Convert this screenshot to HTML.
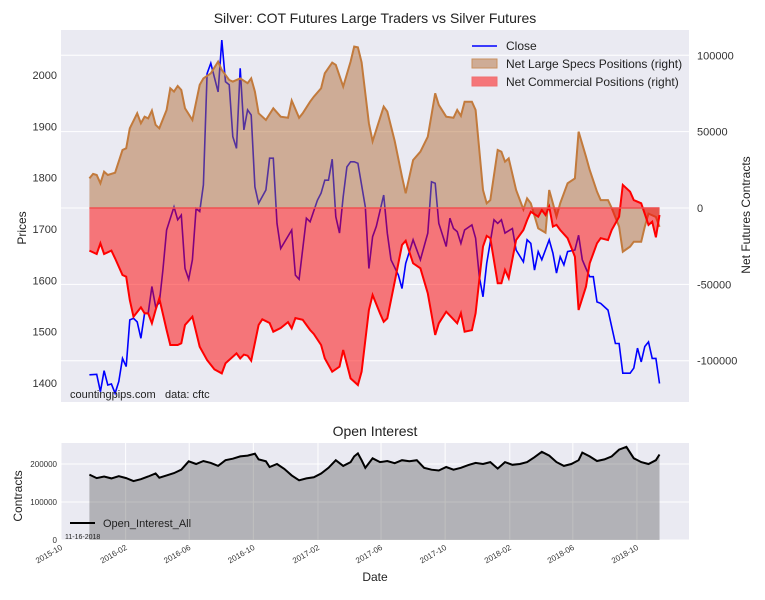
<!DOCTYPE html>
<html><head><meta charset="utf-8"><style>
body{margin:0;background:#fff;font-family:"Liberation Sans",sans-serif}
svg text{font-family:"Liberation Sans",sans-serif}
</style></head><body>
<svg id="c" width="765" height="595" xmlns="http://www.w3.org/2000/svg"></svg>
<script>
const startDate = "2015-11-24";
const closeWeeks=[0,2,3,4,5,6,7,8,9,10,11,12,13,14,15,16,17,18,19,20,21,23,24,25,26,27,28,29,30,31,32,33,35,36,37,38,39,40,41,42,43,44,45,46,48,49,50,51,52,55,56,57,59,60,62,63,64,65,66,67,68,69,70,71,72,73,75,76,77,78,80,81,82,84,85,86,88,90,92,93,94,95,97,98,99,100,101,102,104,105,106,107,108,110,111,112,113,115,116,118,119,120,121,122,123,125,126,127,128,129,130,132,133,134,135,136,137,138,139,141,143,144,145,147,148,149,150,151,152,153,154,155];
const closeVals=[1416,1417,1383,1424,1396,1398,1380,1403,1448,1432,1523,1526,1519,1487,1536,1536,1588,1549,1556,1620,1698,1743,1718,1727,1623,1602,1640,1740,1734,1786,2003,2023,1967,2068,1987,1981,1880,1857,2013,1893,1932,1922,1782,1750,1776,1838,1838,1711,1662,1698,1610,1602,1721,1714,1756,1770,1795,1795,1836,1724,1692,1763,1821,1831,1831,1828,1743,1623,1685,1705,1766,1692,1640,1610,1584,1633,1679,1640,1692,1792,1789,1711,1666,1721,1701,1695,1672,1698,1708,1682,1607,1568,1633,1718,1711,1718,1692,1701,1659,1636,1679,1672,1620,1656,1640,1679,1653,1614,1646,1630,1656,1659,1688,1640,1623,1607,1607,1558,1555,1542,1477,1477,1419,1419,1429,1468,1441,1471,1480,1448,1448,1399];
const specWeeks=[0,1,2,3,4,5,7,9,10,11,13,14,15,16,17,18,19,21,22,23,24,25,26,28,30,31,33,35,36,38,39,41,43,44,45,46,48,50,52,54,55,57,58,60,61,63,64,66,67,69,71,72,73,74,76,77,80,81,83,85,86,88,90,92,94,95,97,99,100,101,102,104,105,107,108,109,111,112,113,114,116,118,119,120,122,124,125,126,127,128,130,132,133,135,136,138,139,141,142,144,145,147,148,150,151,152,154,155];
const specVals=[19400,22300,21600,16200,23800,21600,23100,38000,39100,52200,62000,55500,59800,58700,63800,54400,52200,64200,78400,76200,79900,77300,65300,57600,80600,84900,88200,95900,90400,83800,82800,84900,81700,84900,76200,62000,57600,65300,59800,59100,70400,59100,62000,69600,72900,78400,88200,95200,93700,79500,95900,105700,105200,95400,55500,43700,66400,63100,43900,20500,9600,31400,36900,46700,75100,67500,59800,59100,64200,60300,69600,69600,64200,11800,3100,5200,38000,36900,30300,32500,11800,-900,6300,3100,-13300,-16200,11800,3100,-5700,3100,16200,19400,50000,33600,24900,10700,5200,5200,0,-12200,-28600,-25300,-22100,-22100,-12200,-3700,-5900,-12400];
const commWeeks=[0,2,3,4,6,7,9,10,11,12,14,15,16,17,18,19,21,22,24,25,26,28,30,32,34,36,37,40,41,42,43,44,46,47,49,50,52,54,55,56,58,60,61,63,64,66,68,69,71,73,74,76,77,79,80,81,83,85,86,88,90,92,94,95,97,100,101,102,104,105,107,108,109,111,112,113,114,116,118,119,120,122,123,124,125,126,127,128,130,132,133,135,136,138,139,141,142,144,145,147,148,150,152,153,154,155];
const commVals=[-27900,-30100,-23100,-30100,-27900,-33000,-43900,-45000,-60300,-71200,-65100,-69000,-69000,-75500,-66800,-59200,-79900,-89700,-89700,-88600,-76600,-71200,-90800,-99600,-105700,-108300,-101700,-95200,-98500,-96000,-96700,-100000,-76600,-72900,-75300,-81000,-78600,-74700,-78800,-72100,-73200,-79900,-82500,-89700,-98500,-107200,-103900,-93000,-111600,-115900,-107200,-66800,-57000,-69000,-74500,-72300,-48300,-24200,-21400,-36200,-39500,-55900,-83200,-75500,-67900,-75500,-68900,-81000,-80000,-68900,-25300,-18300,-19800,-49300,-49300,-40600,-46000,-21000,-14400,-7900,-2400,-5700,-1300,-4600,900,-12200,-11100,-14400,-19800,-31900,-66800,-51500,-36200,-23100,-19800,-21000,-14400,-5700,15100,10700,5200,3100,-11100,-9000,-19200,-4600];
const oiWeeks=[0,2,4,6,8,10,12,14,16,18,19,21,23,25,27,29,31,33,35,37,39,41,43,45,46,48,49,51,53,55,57,59,61,63,65,67,69,71,72,73,74,75,77,79,81,83,85,87,89,91,93,95,97,99,101,103,105,107,109,111,113,115,117,119,121,123,125,127,129,131,133,134,136,138,140,142,144,146,148,150,152,154,155];
const oiVals=[172,163,167,162,168,163,155,160,167,175,164,170,176,185,207,200,208,203,195,210,214,220,222,227,212,207,192,200,187,170,157,162,165,175,190,210,195,205,220,228,210,190,215,205,208,202,210,207,210,190,185,183,192,185,190,197,203,200,205,188,205,198,200,205,218,232,222,205,195,200,210,230,220,208,212,220,238,245,215,205,200,210,225];
const leftTicks=[1400,1500,1600,1700,1800,1900,2000];
const rightTicks=[-100000,-50000,0,50000,100000];
const oiTicks=[0,100000,200000];
const dateTicks=["2015-10","2016-02","2016-06","2016-10","2017-02","2017-06","2017-10","2018-02","2018-06","2018-10"];

const svg=document.getElementById('c');const NS="http://www.w3.org/2000/svg";
function mk(t,a,p){const e=document.createElementNS(NS,t);for(const k in a)e.setAttribute(k,a[k]);(p||svg).appendChild(e);return e;}
const D0=Date.UTC(2015,9,1), S0=Date.parse(startDate+"T00:00:00Z");
function xDate(ms){return 61+(ms-D0)/864e5*0.5255;}
function xW(i){return xDate(S0+i*7*864e5);}
function yL(p){return 229-(p-1700)*0.5133;}
function yR(v){return 208-v*0.001527;}
function yO(v){return 540-v*0.00038;}
function tx(x,y,s,a,nm){const e=mk('text',Object.assign({x:x,y:y},a||{}));e.textContent=s;return e;}

let r=mk('rect',{x:61,y:30,width:628,height:372,fill:'#EAEAF2'});

rightTicks.forEach(v=>{let l=mk('line',{x1:61,x2:689,y1:yR(v),y2:yR(v),stroke:'#fff','stroke-width':1});

tx(697,yR(v)+4,String(v),{'font-size':11,fill:'#333'},'right-tick-label');});
leftTicks.forEach(v=>{tx(57,yL(v)+4,String(v),{'font-size':11,fill:'#333','text-anchor':'end'},'left-tick-label');});
function pts(ws,vs,fx,fy){return ws.map((w,k)=>fx(w).toFixed(1)+','+fy(vs[k]).toFixed(1));}
let cl=mk('polyline',{points:pts(closeWeeks,closeVals,xW,yL).join(' '),fill:'none',stroke:'#0000FF','stroke-width':1.6});

function area(ws,vs,fill,line,nm){const p=pts(ws,vs,xW,yR);const x0=xW(ws[0]),x1=xW(ws[ws.length-1]);
let a=mk('polygon',{points:x0+','+yR(0)+' '+p.join(' ')+' '+x1+','+yR(0),fill:fill,stroke:'none'});

let l=mk('polyline',{points:p.join(' '),fill:'none',stroke:line,'stroke-width':2});
}
area(specWeeks,specVals,'rgba(175,105,50,0.48)','#C27A3C','net-large-specs');
area(commWeeks,commVals,'rgba(255,0,0,0.5)','#FF0000','net-commercial');
let zl=mk('line',{x1:xW(0),x2:xW(155),y1:yR(0),y2:yR(0),stroke:'#F05050','stroke-width':1.5});

tx(375,23,'Silver: COT Futures Large Traders vs Silver Futures',{'font-size':14,fill:'#222','text-anchor':'middle'},'chart-title');
tx(70,398,'countingpips.com',{'font-size':11,fill:'#222'},'watermark');
tx(165,398,'data: cftc',{'font-size':11,fill:'#222'},'data-source');
tx(0,0,'Prices',{'font-size':12,fill:'#222','text-anchor':'middle',transform:'translate(26,228) rotate(-90)'},'left-axis-title');
tx(0,0,'Net Futures Contracts',{'font-size':12,fill:'#222','text-anchor':'middle',transform:'translate(750,215) rotate(-90)'},'right-axis-title');
let lg=mk('g',{});
mk('line',{x1:472,x2:497,y1:46,y2:46,stroke:'#0000FF','stroke-width':1.6},lg);
mk('rect',{x:472,y:59,width:25,height:9,fill:'rgba(175,105,50,0.48)',stroke:'#C9905E'},lg);
mk('rect',{x:472,y:77,width:25,height:9,fill:'rgba(255,0,0,0.5)',stroke:'#F07070'},lg);
tx(506,50,'Close',{'font-size':12,fill:'#222'},'legend-entry');
tx(506,68,'Net Large Specs Positions (right)',{'font-size':12,fill:'#222'},'legend-entry');
tx(506,86,'Net Commercial Positions (right)',{'font-size':12,fill:'#222'},'legend-entry');

let r2=mk('rect',{x:61,y:443,width:628,height:97,fill:'#EAEAF2'});

oiTicks.forEach(v=>{let l=mk('line',{x1:61,x2:689,y1:yO(v),y2:yO(v),stroke:'#fff','stroke-width':1});

tx(57,yO(v)+3,String(v),{'font-size':8,fill:'#333','text-anchor':'end'},'oi-tick-label');});
dateTicks.forEach(d=>{const x=xDate(Date.parse(d+"-01T00:00:00Z"));
let l=mk('line',{x1:x,x2:x,y1:443,y2:540,stroke:'#fff','stroke-width':1});

tx(0,0,d,{'font-size':8,fill:'#333','text-anchor':'end',transform:'translate('+(x+2)+',549) rotate(-30)'},'date-tick-label');});
const op=oiWeeks.map((w,k)=>xW(w).toFixed(1)+','+yO(oiVals[k]*1000).toFixed(1));
let oa=mk('polygon',{points:xW(0)+','+yO(0)+' '+op.join(' ')+' '+xW(155)+','+yO(0),fill:'rgba(60,60,60,0.32)'});

let ol=mk('polyline',{points:op.join(' '),fill:'none',stroke:'#000','stroke-width':2});

tx(375,436,'Open Interest',{'font-size':14,fill:'#222','text-anchor':'middle'},'open-interest-title');
tx(375,581,'Date',{'font-size':12,fill:'#222','text-anchor':'middle'},'x-axis-title');
tx(0,0,'Contracts',{'font-size':12,fill:'#222','text-anchor':'middle',transform:'translate(22,496) rotate(-90)'},'oi-axis-title');
let l2=mk('line',{x1:70,x2:95,y1:523,y2:523,stroke:'#000','stroke-width':2});

tx(103,527,'Open_Interest_All',{'font-size':11,fill:'#222'},'oi-legend-entry');
tx(65,539,'11-16-2018',{'font-size':7,fill:'#222'},'report-date');
</script>
</body></html>
